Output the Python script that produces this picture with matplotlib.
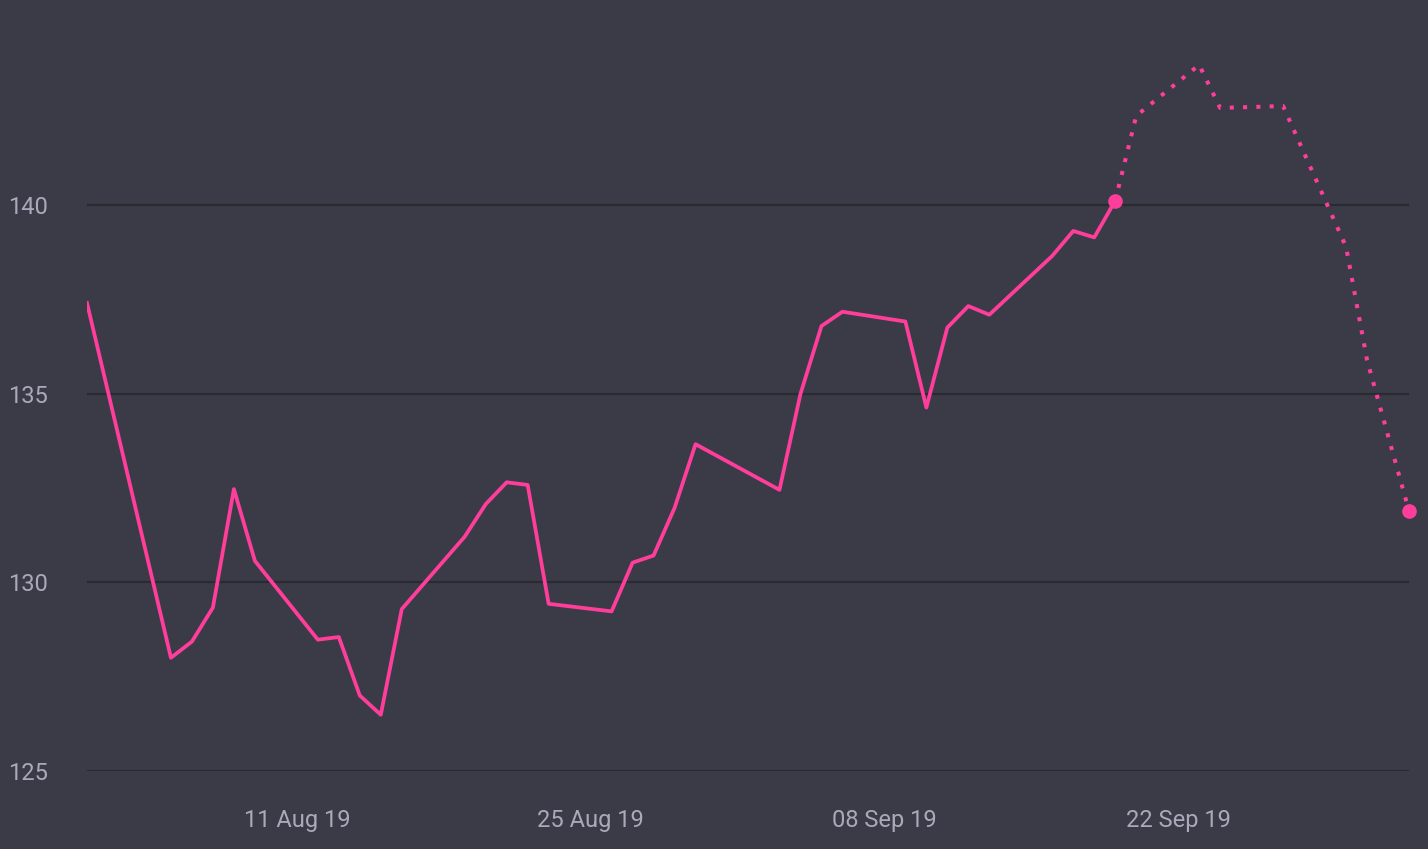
import matplotlib
matplotlib.use("Agg")
import matplotlib.pyplot as plt
import matplotlib.dates as mdates
import pandas as pd

# Historical closes (solid line)
hist_dates = ["2019-08-01", "2019-08-05", "2019-08-06", "2019-08-07", "2019-08-08",
              "2019-08-09", "2019-08-12", "2019-08-13", "2019-08-14", "2019-08-15",
              "2019-08-16", "2019-08-19", "2019-08-20", "2019-08-21", "2019-08-22",
              "2019-08-23", "2019-08-26", "2019-08-27", "2019-08-28", "2019-08-29",
              "2019-08-30", "2019-09-03", "2019-09-04", "2019-09-05", "2019-09-06",
              "2019-09-09", "2019-09-10", "2019-09-11", "2019-09-12", "2019-09-13",
              "2019-09-16", "2019-09-17", "2019-09-18", "2019-09-19"]
hist_values = [137.4, 128.0, 128.43, 129.33, 132.47,
               130.57, 128.48, 128.55, 127.0, 126.49,
               129.29, 131.21, 132.07, 132.65, 132.58,
               129.43, 129.23, 130.52, 130.71, 131.97,
               133.66, 132.45, 134.99, 136.79, 137.17,
               136.91, 134.63, 136.75, 137.32, 137.09,
               138.65, 139.31, 139.14, 140.11]

# Forecast (dotted line)
fc_dates = ["2019-09-19", "2019-09-20", "2019-09-23", "2019-09-24", "2019-09-27",
            "2019-09-30", "2019-10-01", "2019-10-03"]
fc_values = [140.11, 142.36, 143.71, 142.57, 142.62, 138.89, 135.89, 131.89]

y_ticks = [125, 130, 135, 140]
x_ticks = ["2019-08-11", "2019-08-25", "2019-09-08", "2019-09-22"]

bg = "#3b3b47"
grid_c = "#2a2a33"
text_c = "#a9a9bb"
pink = "#ff3e9b"

hd = pd.to_datetime(hist_dates)
fd = pd.to_datetime(fc_dates)

fig = plt.figure(figsize=(14.28, 8.49), dpi=100, facecolor=bg)
ax = fig.add_axes([87 / 1428, 78 / 849, (1409 - 87) / 1428, (771 - 40) / 849])
ax.set_facecolor(bg)

ax.plot(hd, hist_values, color=pink, lw=2.7, zorder=3)
ax.plot(fd, fc_values, color=pink, lw=2.9, linestyle=(0, (1, 2.3)),
        dash_capstyle="butt", zorder=3)
ax.plot([fd[0], fd[-1]], [fc_values[0], fc_values[-1]], "o", color=pink,
        markersize=9.5, zorder=4, clip_on=False)

ax.set_xlim(pd.Timestamp("2019-08-01"), pd.Timestamp("2019-10-03"))
ax.set_ylim(125, 144.37)

ax.set_yticks(y_ticks)
ax.set_xticks(pd.to_datetime(x_ticks))
ax.xaxis.set_major_formatter(mdates.DateFormatter("%d %b %y"))

ax.grid(axis="y", color=grid_c, lw=1.6)
ax.set_axisbelow(True)
for s in ax.spines.values():
    s.set_visible(False)

ax.tick_params(axis="both", length=0, colors=text_c, labelsize=17)
ax.tick_params(axis="y", pad=28)
ax.tick_params(axis="x", pad=27)
for lab in ax.get_xticklabels() + ax.get_yticklabels():
    lab.set_fontfamily("Roboto")

fig.savefig("out.png", dpi=100, facecolor=bg)
